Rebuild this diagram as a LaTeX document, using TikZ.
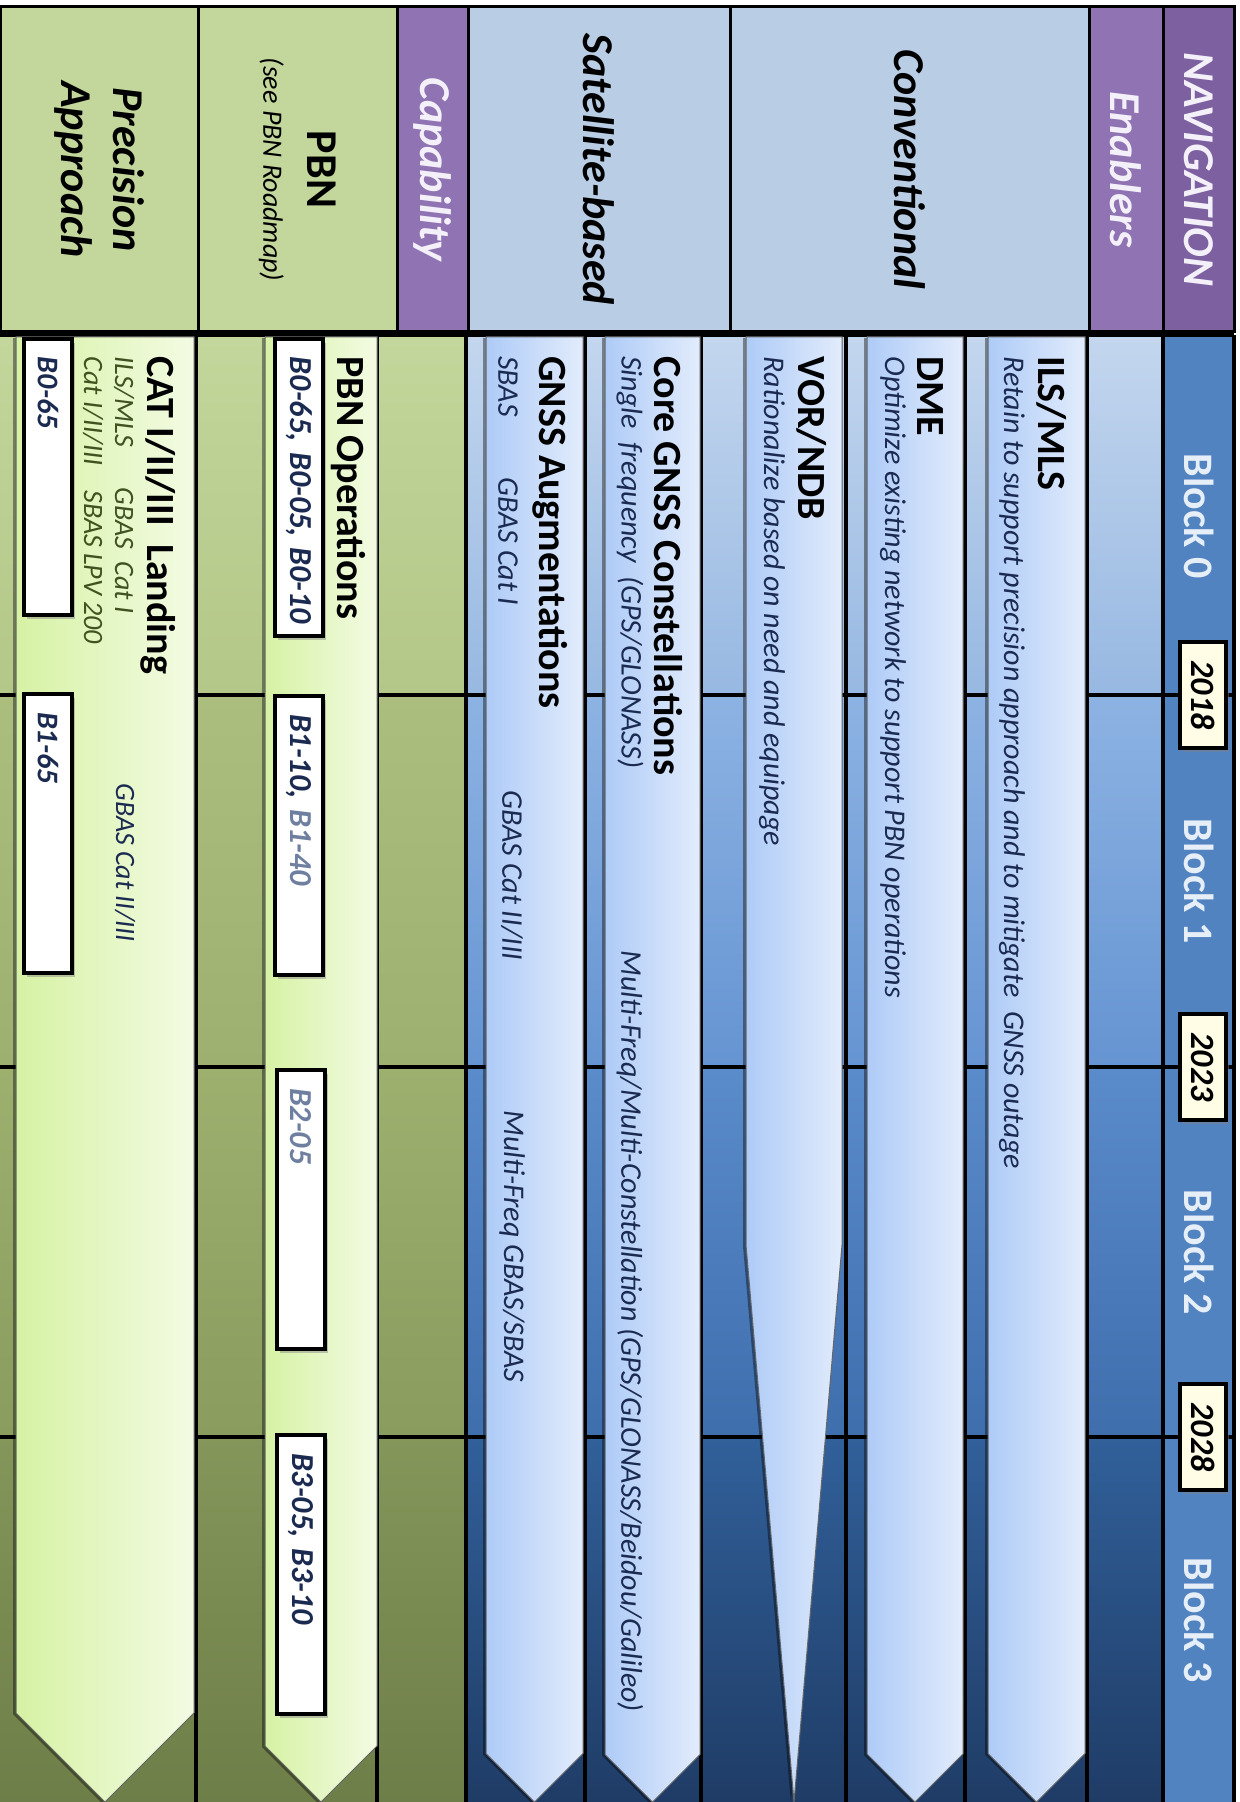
\documentclass[tikz,border=0pt]{standalone}
\usepackage{fontspec}
\setmainfont{Carlito}
\usetikzlibrary{shadows}

\definecolor{navpurple}{HTML}{7D60A0}
\definecolor{enpurple}{HTML}{8F73B2}
\definecolor{hdblue}{HTML}{B9CDE5}
\definecolor{hdgreen}{HTML}{C3D69B}
\definecolor{hdwhite}{HTML}{F4F0FA}
\definecolor{blockblue}{HTML}{5283C1}
\definecolor{blocktxt}{HTML}{E6EEF8}
\definecolor{barblueL}{HTML}{AECBF7}
\definecolor{barblueR}{HTML}{E2ECFC}
\definecolor{bargreenL}{HTML}{D6F2A4}
\definecolor{bargreenR}{HTML}{F3FBE3}
\definecolor{subnavy}{HTML}{1B2A50}
\definecolor{subolive}{HTML}{3F5220}
\definecolor{codegrey}{HTML}{6F7F9F}
\definecolor{yearfill}{HTML}{FFFDE6}
\definecolor{bt0}{HTML}{C3D6EE}\definecolor{bb0}{HTML}{97B8E2}
\definecolor{bt1}{HTML}{8DB3E3}\definecolor{bb1}{HTML}{6594D2}
\definecolor{bt2}{HTML}{5A8BCB}\definecolor{bb2}{HTML}{3F6EAD}
\definecolor{bt3}{HTML}{31609A}\definecolor{bb3}{HTML}{1F3C66}
\definecolor{gt0}{HTML}{C3D69B}\definecolor{gb0}{HTML}{B3C788}
\definecolor{gt1}{HTML}{ABBE7E}\definecolor{gb1}{HTML}{9DB070}
\definecolor{gt2}{HTML}{9DB06E}\definecolor{gb2}{HTML}{8A9C5E}
\definecolor{gt3}{HTML}{84965A}\definecolor{gb3}{HTML}{6E7E48}

\begin{document}
\begin{tikzpicture}[x=0.5pt, y=-0.5pt,
hdcell/.style={draw=black, line width=1.5pt, rotate=-90, minimum width=162.5pt, align=center, inner sep=0pt, font=\fontsize{22}{26}\selectfont\bfseries\itshape},
title/.style={rotate=-90, anchor=west, inner sep=0pt, font=\fontsize{20}{22}\selectfont\bfseries},
sub/.style={rotate=-90, anchor=west, inner sep=0pt, text=subnavy, font=\fontsize{15}{17}\selectfont\itshape},
olive/.style={sub, text=subolive, font=\fontsize{14}{16}\selectfont\itshape},
codebox/.style={rotate=-90, anchor=west, draw=black, line width=2pt, fill=white, text width=#1, align=left, inner xsep=9pt, inner ysep=0pt, minimum height=24pt, text=subnavy, font=\fontsize{16}{18}\selectfont\bfseries\itshape, drop shadow={opacity=.45, shadow xshift=1.5pt, shadow yshift=-2pt}},
codebox/.default=121.5pt,
year/.style={rotate=-90, draw=black, line width=2pt, fill=yearfill, minimum width=53pt, minimum height=23pt, inner sep=0pt, font=\fontsize{17}{19}\selectfont\bfseries\itshape, drop shadow={opacity=.45, shadow xshift=1.5pt, shadow yshift=-2pt}},
blocklbl/.style={rotate=-90, text=blocktxt, font=\fontsize{21}{23}\selectfont\bfseries},
gridline/.style={black, line width=1.6pt},
barshadow/.style={fill=black, opacity=.4, xshift=-1.5pt, yshift=-0.5pt},
bluebar/.style={left color=barblueL, right color=barblueR, draw=black!60, line width=.5pt},
greenbar/.style={left color=bargreenL, right color=bargreenR, draw=black!60, line width=.5pt}
]
\useasboundingbox (0,0) rectangle (1239,1802);
\fill[white] (0,0) rectangle (1239,1802);

\foreach \i/\ya/\yb in {0/337/695,1/695/1067,2/1067/1437,3/1437/1802}{
  \fill[top color=gt\i, bottom color=gb\i] (0,\ya) rectangle (466,\yb);
  \fill[top color=bt\i, bottom color=bb\i] (466,\ya) rectangle (1163,\yb);
}
\fill[blockblue] (1163,337) rectangle (1234,1802);

\foreach \x in {196,377,466,585,701,846,965,1087,1163,1234}
  \draw[gridline] (\x,335) -- (\x,1802);
\foreach \y in {335,695,1067,1437}
  \draw[gridline] (0,\y) -- (1234,\y);

\foreach \xa/\xb in {988/1085,867/963,605/700,486/583}{
  \pgfmathsetmacro\hy{1802-(\xb-\xa)/2}
  \pgfmathsetmacro\xm{(\xa+\xb)/2}
  \fill[barshadow] (\xa,337) -- (\xb,337) -- (\xb,\hy) -- (\xm,1802) -- (\xa,\hy) -- cycle;
  \filldraw[bluebar] (\xa,337) -- (\xb,337) -- (\xb,\hy) -- (\xm,1802) -- (\xa,\hy) -- cycle;
}
\fill[barshadow] (746,337) -- (842,337) -- (842,1245) -- (794,1802) -- (746,1245) -- cycle;
\filldraw[bluebar] (746,337) -- (842,337) -- (842,1245) -- (794,1802) -- (746,1245) -- cycle;
\foreach \xa/\xb in {16/194,265/377}{
  \pgfmathsetmacro\hy{1802-(\xb-\xa)/2}
  \pgfmathsetmacro\xm{(\xa+\xb)/2}
  \fill[barshadow] (\xa,337) -- (\xb,337) -- (\xb,\hy) -- (\xm,1802) -- (\xa,\hy) -- cycle;
  \filldraw[greenbar] (\xa,337) -- (\xb,337) -- (\xb,\hy) -- (\xm,1802) -- (\xa,\hy) -- cycle;
}

\node[hdcell, fill=hdgreen, minimum height=99pt] (prechd) at (99,169.5) {Precision\\Approach};
\node[hdcell, fill=hdgreen, minimum height=99.5pt, font=\fontsize{22}{22}\selectfont\bfseries] (pbnhd) at (297.5,169.5) {PBN\\{\fontsize{14}{16}\selectfont\mdseries\itshape(see PBN Roadmap)}};
\node[hdcell, fill=enpurple, minimum height=35.5pt, text=hdwhite] (caphd) at (432.5,169.5) {Capability};
\node[hdcell, fill=hdblue, minimum height=131pt] (sathd) at (599,169.5) {Satellite-based};
\node[hdcell, fill=hdblue, minimum height=179.5pt] (convhd) at (909.5,169.5) {Conventional};
\node[hdcell, fill=enpurple, minimum height=37pt, text=hdwhite] (enhd) at (1126,169.5) {Enablers};
\node[hdcell, fill=navpurple, minimum height=35.5pt, text=hdwhite] (navhd) at (1198.5,169.5) {NAVIGATION};

\foreach \i/\y in {0/516,1/881,2/1252,3/1620}
  \node[blocklbl] (blk\i) at (1199,\y) {Block \i};
\foreach \yr/\y in {2018/695,2023/1067,2028/1437}
  \node[year] (yr\yr) at (1203,\y) {\yr};

\node[title] (ils) at (1052,356) {ILS/MLS};
\node[sub] (ilstxt) at (1012,356) {Retain to support precision approach and to mitigate\ \ GNSS outage};
\node[title] (dme) at (930,356) {DME};
\node[sub] (dmetxt) at (893,356) {Optimize existing network to support PBN operations};
\node[title] (vor) at (812,356) {VOR/NDB};
\node[sub] (vortxt) at (772,356) {Rationalize based on need and equipage};
\node[title] (core) at (668,356) {Core GNSS Constellations};
\node[sub] (coretxt) at (630,356) {Single\ \ frequency\ \ (GPS/GLONASS)};
\node[sub] (multi) at (630,950) {Multi-Freq/Multi-Constellation (GPS/GLONASS/Beidou/Galileo)};
\node[title] (aug) at (550,356) {GNSS Augmentations};
\node[sub] (sbas) at (508,356) {SBAS};
\node[sub] (gbas1) at (508,477) {GBAS Cat I};
\node[sub] (gbas2) at (512,790) {GBAS Cat II/III};
\node[sub] (mfgbas) at (512,1110) {Multi-Freq GBAS/SBAS};

\node[title] (pbnops) at (348,356) {PBN Operations};
\node[codebox=130.5pt] (pbn0) at (299,337) {\mbox{B0-65, B0-05, B0-10}};
\node[codebox] (pbn1) at (299,694) {B1-10, \textcolor{codegrey}{B1-40}};
\node[codebox] (pbn2) at (301,1068) {\textcolor{codegrey}{B2-05}};
\node[codebox] (pbn3) at (301,1433) {B3-05, B3-10};

\node[title] (cat) at (158,356) {CAT I/II/III\ \ Landing};
\node[olive] (catils) at (124,356) {ILS/MLS};
\node[olive] (catgbas) at (124,487) {GBAS\ \ Cat I};
\node[olive] (catcat) at (93,356) {Cat I/II/III};
\node[olive] (catsbas) at (93,490) {SBAS LPV 200};
\node[olive, text=subnavy] (catgbas2) at (125,783) {GBAS Cat II/III};
\node[codebox=120pt, font=\fontsize{15}{17}\selectfont\bfseries\itshape] (prec0) at (48,337) {B0-65};
\node[codebox, font=\fontsize{15}{17}\selectfont\bfseries\itshape] (prec1) at (48,692) {B1-65};
\end{tikzpicture}
\end{document}
